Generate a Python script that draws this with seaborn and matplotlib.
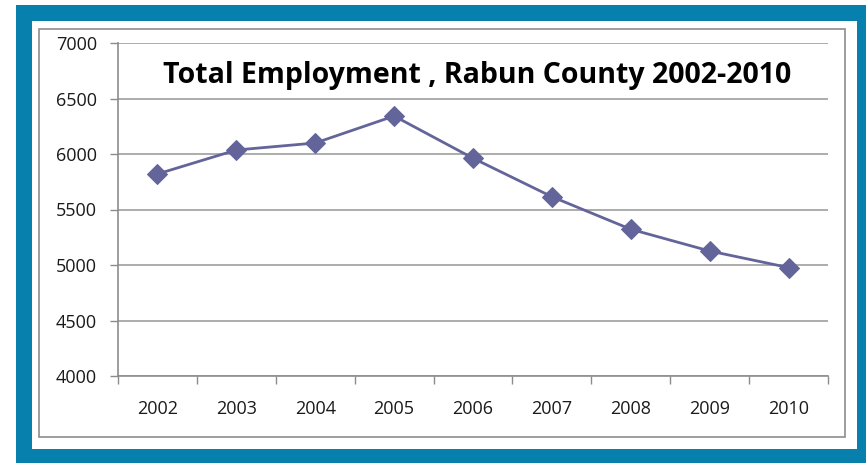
import matplotlib
matplotlib.use("Agg")
import matplotlib.pyplot as plt
import seaborn as sns
import pandas as pd
from matplotlib.patches import Rectangle
from matplotlib.ticker import FixedLocator

years = ["2002", "2003", "2004", "2005", "2006", "2007", "2008", "2009", "2010"]
employment = [5820, 6036, 6099, 6342, 5962, 5615, 5322, 5126, 4977]
y_ticks = [4000, 4500, 5000, 5500, 6000, 6500, 7000]
title = "Total Employment , Rabun County 2002-2010"

sns.set_theme(style="white")
plt.rcParams["font.family"] = ["Open Sans", "DejaVu Sans"]

W, H = 866, 463
fig = plt.figure(figsize=(W / 100, H / 100), dpi=100)
fig.patch.set_facecolor("white")

def px_rect(x0, y0, x1, y1, **kw):
    return Rectangle((x0 / W, 1 - y1 / H), (x1 - x0) / W, (y1 - y0) / H,
                     transform=fig.transFigure, **kw)

fig.patches.append(px_rect(16, 5, 870, 470, facecolor="#0880AD", edgecolor="none", zorder=0))
fig.patches.append(px_rect(32, 21, 857, 449, facecolor="white", edgecolor="none", zorder=1))
fig.patches.append(px_rect(39, 29, 845, 437, facecolor="none", edgecolor="#8C8C8C", lw=1.2, zorder=2))

ax = fig.add_axes([118 / W, 1 - 376 / H, (828 - 118) / W, (376 - 43) / H])
ax.set_facecolor("none")
ax.set_zorder(3)

df = pd.DataFrame({"year": years, "employment": employment})
sns.lineplot(data=df, x="year", y="employment", ax=ax, color="#63649A",
             marker="D", markersize=10, markeredgecolor="#63649A", linewidth=2.0,
             sort=False)

ax.set_xlim(-0.5, len(years) - 0.5)
ax.set_ylim(4000, 7000)
ax.set_yticks(y_ticks)
ax.set_yticklabels([str(v) for v in y_ticks], fontsize=13, color="#1a1a1a")

ax.xaxis.set_major_locator(FixedLocator([i - 0.5 for i in range(len(years) + 1)]))
ax.xaxis.set_major_formatter(plt.NullFormatter())
ax.xaxis.set_minor_locator(FixedLocator(list(range(len(years)))))
ax.set_xticklabels(years, minor=True, fontsize=13, color="#1a1a1a")
ax.tick_params(axis="x", which="major", length=6, width=1, color="#8C8C8C", direction="out", bottom=True)
ax.tick_params(axis="x", which="minor", length=0, pad=17, bottom=True)
ax.tick_params(axis="y", length=6, width=1, color="#8C8C8C", direction="out", left=True, pad=9)

ax.grid(axis="y", color="#A6A6A6", linewidth=1.3)
ax.set_axisbelow(True)
for s in ["top", "right"]:
    ax.spines[s].set_visible(False)
for s in ["left", "bottom"]:
    ax.spines[s].set_color("#8C8C8C")
    ax.spines[s].set_linewidth(1.2)
ax.set_xlabel("")
ax.set_ylabel("")

fig.text(477 / W, 1 - 76 / H, title, ha="center", va="center",
         fontsize=20.5, fontweight="bold", color="black", zorder=5)

fig.savefig("out.png", dpi=100)
